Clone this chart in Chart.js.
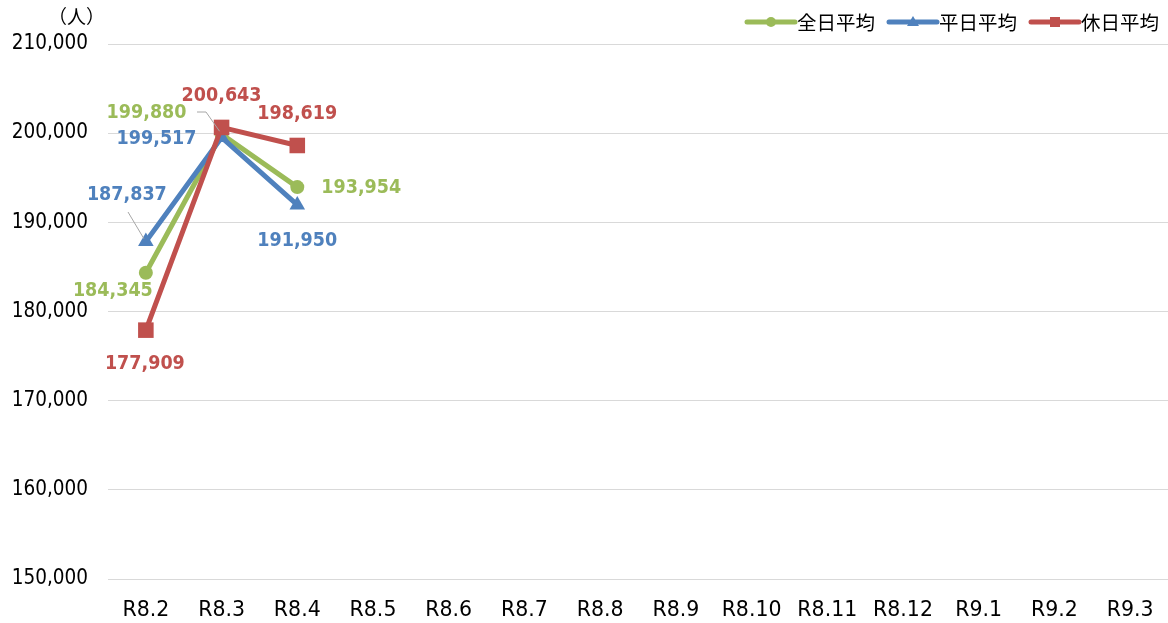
<!DOCTYPE html>
<html><head><meta charset="utf-8">
<script src="https://cdn.jsdelivr.net/npm/chart.js@4"></script>
<style>html,body{margin:0;padding:0;background:#fff}#wrap{width:1168px;height:623px;position:relative}</style>
</head><body><div id="wrap"><canvas id="c" width="1168" height="623"></canvas></div>
<script>
const categories = ['R8.2','R8.3','R8.4','R8.5','R8.6','R8.7','R8.8','R8.9','R8.10','R8.11','R8.12','R9.1','R9.2','R9.3'];
const seriesNames = ['全日平均','平日平均','休日平均'];
const allDay = [184345, 199880, 193954, null, null, null, null, null, null, null, null, null, null, null];
const weekday = [187837, 199517, 191950, null, null, null, null, null, null, null, null, null, null, null];
const holiday = [177909, 200643, 198619, null, null, null, null, null, null, null, null, null, null, null];
const yMin = 150000, yMax = 210000, yStep = 10000;

const colors = ['#9BBB59', '#4F81BD', '#C0504D'];
const styles = ['circle', 'triangle', 'rect'];
const radii = [7, 9, 11];
const labelOffsets = [
  [[-33, 18], [-75, -21], [64, 1]],
  [[-19, -47], [-65, 1], [0, 36]],
  [[-1, 34], [0, -31], [0, -32]]
];
const leaders = { '0-1': [[197,112],[206,112]], '1-0': [[128,212]] };

const fmt = v => v.toLocaleString('en-US');
const condFont = '"DejaVu Sans Condensed", "DejaVu Sans"';

const labelPlugin = {
  id: 'labels',
  afterDatasetsDraw(chart) {
    const ctx = chart.ctx;
    ctx.save();
    ctx.strokeStyle = '#a6a6a6'; ctx.lineWidth = 1;
    chart.data.datasets.forEach((ds, di) => {
      const meta = chart.getDatasetMeta(di);
      ds.data.forEach((v, i) => {
        const key = di + '-' + i;
        if (v == null || !leaders[key]) return;
        const p = meta.data[i];
        ctx.beginPath();
        const pts = leaders[key];
        ctx.moveTo(pts[0][0], pts[0][1]);
        for (let k = 1; k < pts.length; k++) ctx.lineTo(pts[k][0], pts[k][1]);
        ctx.lineTo(p.x - 2, p.y - 3);
        ctx.stroke();
      });
    });
    ctx.font = 'bold 19.5px ' + condFont;
    ctx.textAlign = 'center'; ctx.textBaseline = 'middle';
    chart.data.datasets.forEach((ds, di) => {
      const meta = chart.getDatasetMeta(di);
      ctx.fillStyle = colors[di];
      ds.data.forEach((v, i) => {
        if (v == null) return;
        const p = meta.data[i];
        const o = labelOffsets[di][i];
        ctx.fillText(fmt(v), p.x + o[0], p.y + o[1]);
      });
    });
    ctx.fillStyle = '#000';
    ctx.font = '19px "Noto Sans CJK JP"';
    ctx.textAlign = 'left';
    ctx.fillText('（人）', 48, 17);
    const legendX = [745, 887, 1029];
    ctx.font = '19.5px "Noto Sans CJK JP"';
    seriesNames.forEach((n, di) => {
      const x = legendX[di], y = 22;
      ctx.strokeStyle = colors[di]; ctx.lineWidth = 5; ctx.lineCap = 'round';
      ctx.beginPath(); ctx.moveTo(x + 2, y); ctx.lineTo(x + 50, y); ctx.stroke();
      ctx.fillStyle = colors[di];
      const cx = x + 26;
      if (styles[di] === 'circle') { ctx.beginPath(); ctx.arc(cx, y, 5, 0, Math.PI * 2); ctx.fill(); }
      else if (styles[di] === 'triangle') { ctx.beginPath(); ctx.moveTo(cx, y - 6); ctx.lineTo(cx + 6, y + 4); ctx.lineTo(cx - 6, y + 4); ctx.closePath(); ctx.fill(); }
      else { ctx.fillRect(cx - 5, y - 5, 10, 10); }
      ctx.fillStyle = '#000';
      ctx.textAlign = 'left';
      ctx.fillText(n, x + 52, y + 1);
    });
    ctx.restore();
  }
};

const seriesData = [allDay, weekday, holiday];
new Chart(document.getElementById('c'), {
  type: 'line',
  data: {
    labels: categories,
    datasets: seriesData.map((d, di) => ({
      label: seriesNames[di],
      data: d,
      borderColor: colors[di],
      backgroundColor: colors[di],
      borderWidth: 5,
      pointStyle: styles[di],
      pointRadius: radii[di],
      pointBorderWidth: 0,
      pointBackgroundColor: colors[di],
      tension: 0,
      order: 2 - di,
      spanGaps: false,
      clip: false
    }))
  },
  options: {
    responsive: false,
    animation: false,
    layout: { autoPadding: false, padding: { top: 44, left: 0, right: 0, bottom: 0 } },
    plugins: { legend: { display: false }, tooltip: { enabled: false } },
    scales: {
      x: {
        offset: true,
        grid: { display: false },
        border: { display: false },
        ticks: { color: '#000', font: { family: 'DejaVu Sans', size: 20.5 }, padding: 11, maxRotation: 0, autoSkip: false },
        afterFit(s) { s.height = 44; s.paddingLeft = 0; s.paddingRight = 0; }
      },
      y: {
        min: yMin, max: yMax,
        grid: { color: '#d9d9d9', lineWidth: 1, drawTicks: false },
        border: { display: false },
        ticks: { stepSize: yStep, color: '#000', font: { family: condFont, size: 20.5 }, padding: 20, callback: v => fmt(v) },
        afterFit(s) { s.width = 108; s.paddingTop = 0; s.paddingBottom = 0; }
      }
    }
  },
  plugins: [labelPlugin]
});
</script></body></html>
